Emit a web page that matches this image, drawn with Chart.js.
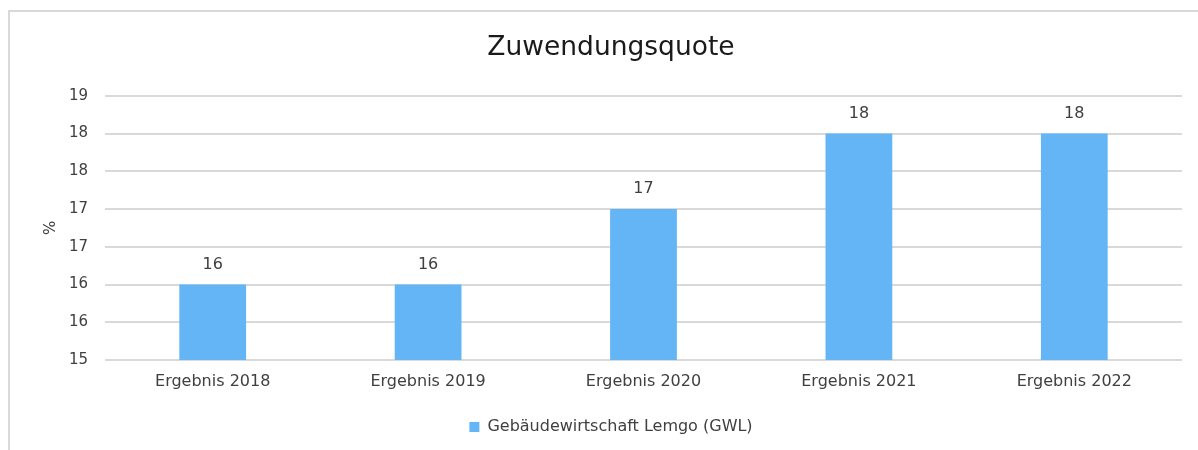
<!DOCTYPE html>
<html>
<head>
<meta charset="utf-8">
<script src="https://cdn.jsdelivr.net/npm/chart.js@4.4.1/dist/chart.umd.min.js"></script>
<style>
    body { margin: 0; background: #ffffff; }
    #wrap { position: absolute; left: 0; top: 0; width: 1198px; height: 450px; }
    #frame { position: absolute; left: 8px; top: 10px; width: 1190px; height: 440px;
             border-top: 2px solid #d9d9d9; border-left: 2px solid #d9d9d9; box-sizing: border-box; }
</style>
</head>
<body>
<div id="wrap">
    <canvas id="QuoteChart" width="1198" height="450"></canvas>
    <div id="frame"></div>
</div>
<script>
const QuoteChartElement = document.getElementById("QuoteChart");

// data
const YEAR_LABELS = ['Ergebnis 2018', 'Ergebnis 2019', 'Ergebnis 2020', 'Ergebnis 2021', 'Ergebnis 2022'];
const GWL_VALUES = [16, 16, 17, 18, 18];
const SERIES_NAME = 'Gebäudewirtschaft Lemgo (GWL)';
const Y_MIN = 15;
const Y_MAX = 18.5;
const Y_STEP = 0.5;

const BAR_COLOR = '#64B5F6';
const TEXT_COLOR = '#404040';
const FONT = "'DejaVu Sans', Verdana, sans-serif";

// draws the value above every bar
const ValueLabelPlugin = {
    id: 'valueLabels',
    afterDatasetsDraw(chart) {
        const ctx = chart.ctx;
        const meta = chart.getDatasetMeta(0);
        ctx.save();
        ctx.font = "16px " + FONT;
        ctx.fillStyle = TEXT_COLOR;
        ctx.textAlign = 'center';
        ctx.textBaseline = 'middle';
        for (let i = 0; i < meta.data.length; i++)
        {
            const bar = meta.data[i];
            ctx.fillText(Math.round(GWL_VALUES[i]), bar.x, bar.y - 20);
        }
        ctx.restore();
    }
};

var QuoteChartVar = new Chart(QuoteChartElement, {
    type: 'bar',
    data: {
        labels: YEAR_LABELS,
        datasets: [{
            label: SERIES_NAME,
            data: GWL_VALUES,
            backgroundColor: BAR_COLOR,
            borderWidth: 0,
            barPercentage: 0.31,
            categoryPercentage: 1.0
        }]
    },
    options: {
        responsive: false,
        animation: false,
        layout: {
            padding: { left: 40, right: 16, top: 10, bottom: 5 }
        },
        scales: {
            x: {
                afterFit: (scale) => { scale.height = 49; },
                grid: { display: false, drawTicks: false },
                border: { display: false },
                ticks: {
                    color: TEXT_COLOR,
                    font: { family: FONT, size: 16 },
                    padding: 12,
                    maxRotation: 0
                }
            },
            y: {
                min: Y_MIN,
                max: Y_MAX,
                afterFit: (scale) => { scale.width = 65; },
                grid: { color: '#d9d9d9', lineWidth: 2, drawTicks: false },
                border: { display: false },
                ticks: {
                    stepSize: Y_STEP,
                    color: TEXT_COLOR,
                    font: { family: FONT, size: 15 },
                    padding: 17,
                    callback: (value) => Math.round(value)
                },
                title: {
                    display: true,
                    text: '%',
                    color: TEXT_COLOR,
                    font: { family: FONT, size: 15 },
                    padding: { top: 2, bottom: 0 }
                }
            }
        },
        plugins: {
            title: {
                display: true,
                text: 'Zuwendungsquote',
                color: '#1a1a1a',
                font: { family: FONT, size: 26.5, weight: 'normal' },
                padding: { top: 22, bottom: 32 }
            },
            legend: {
                display: true,
                position: 'bottom',
                labels: {
                    color: TEXT_COLOR,
                    font: { family: FONT, size: 16 },
                    boxWidth: 10,
                    boxHeight: 10,
                    padding: 10
                }
            },
            tooltip: { enabled: false }
        }
    },
    plugins: [ValueLabelPlugin]
});
</script>
</body>
</html>
